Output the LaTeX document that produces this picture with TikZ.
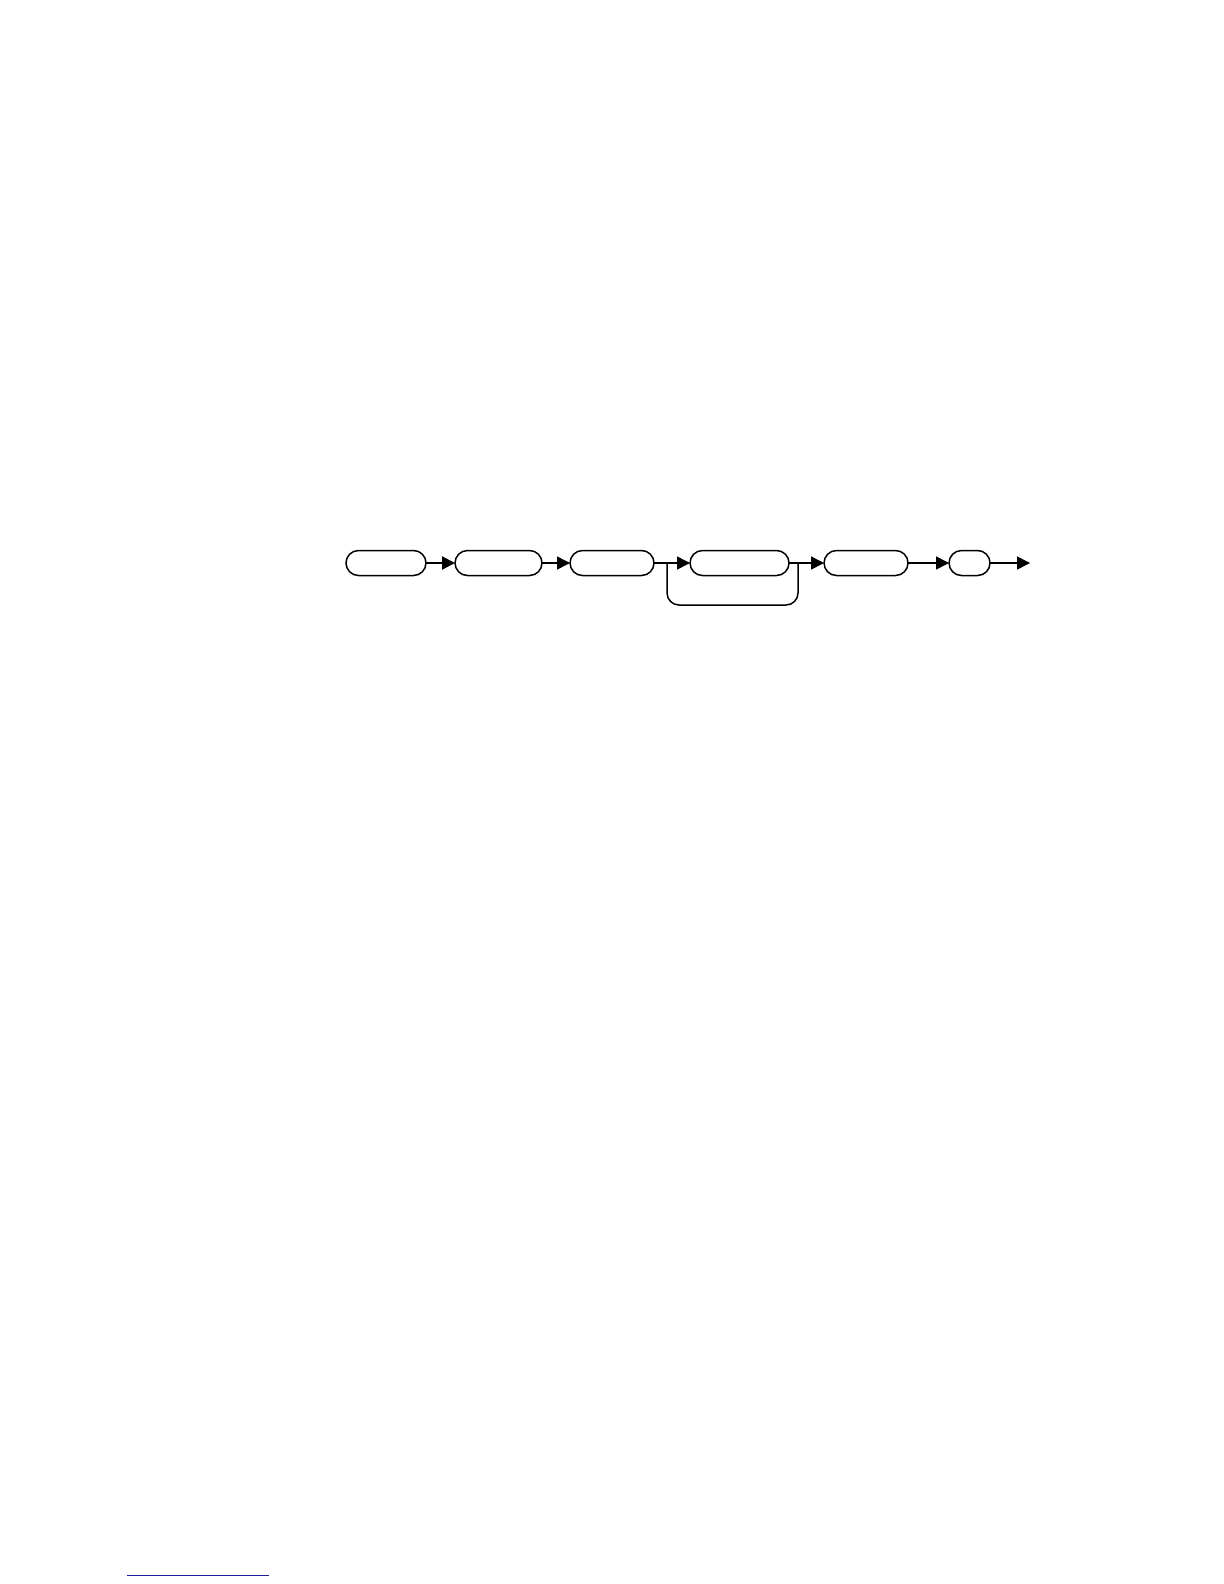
\documentclass[tikz,border=0pt]{standalone}
\usetikzlibrary{positioning}
\usetikzlibrary{arrows.meta}
\definecolor{rulecolor}{RGB}{30,30,150}

\begin{document}
\begin{tikzpicture}[x=0.5bp, y=-0.5bp, line width=0.75pt,
		railbox/.style={draw, rounded corners=6.25bp, minimum height=12.5bp, inner sep=0pt, outer sep=0pt},
		flow/.style={-{Triangle[length=6.5bp, width=6.5bp]}}
		]
		\useasboundingbox (0,0) rectangle (1224,1584);
		
		\node[railbox, minimum width=40bp] (bA) at (386,563) {};
		\node[railbox, minimum width=43.5bp, right=14.5bp of bA] (bB) {};
		\node[railbox, minimum width=42bp, right=14bp of bB] (bC) {};
		\node[railbox, minimum width=49.5bp, right=18bp of bC] (bD) {};
		\node[railbox, minimum width=42bp, right=17.5bp of bD] (bE) {};
		\node[railbox, minimum width=20.5bp, right=20.5bp of bE] (bF) {};
		
		\coordinate[right=6.5bp of bC] (split);
		\coordinate[right=4.5bp of bD] (merge);
		\coordinate[right=20bp of bF] (exit);
		
		\draw[flow, line width=1.1pt] (bA.east) -- (bB.west);
		\draw[flow] (bB.east) -- (bC.west);
		\draw[flow] (bC.east) -- (bD.west);
		\draw[flow] (bD.east) -- (bE.west);
		\draw[flow] (bE.east) -- (bF.west);
		\draw[flow] (bF.east) -- (exit);
		
		% skip path below the fourth box
		\draw[rounded corners=6bp] (split) -- ++(0,-21bp) -| (merge);
		
		\draw[rulecolor, line width=0.5pt] (127,1575.5) -- (269,1575.5);
	\end{tikzpicture}
\end{document}
